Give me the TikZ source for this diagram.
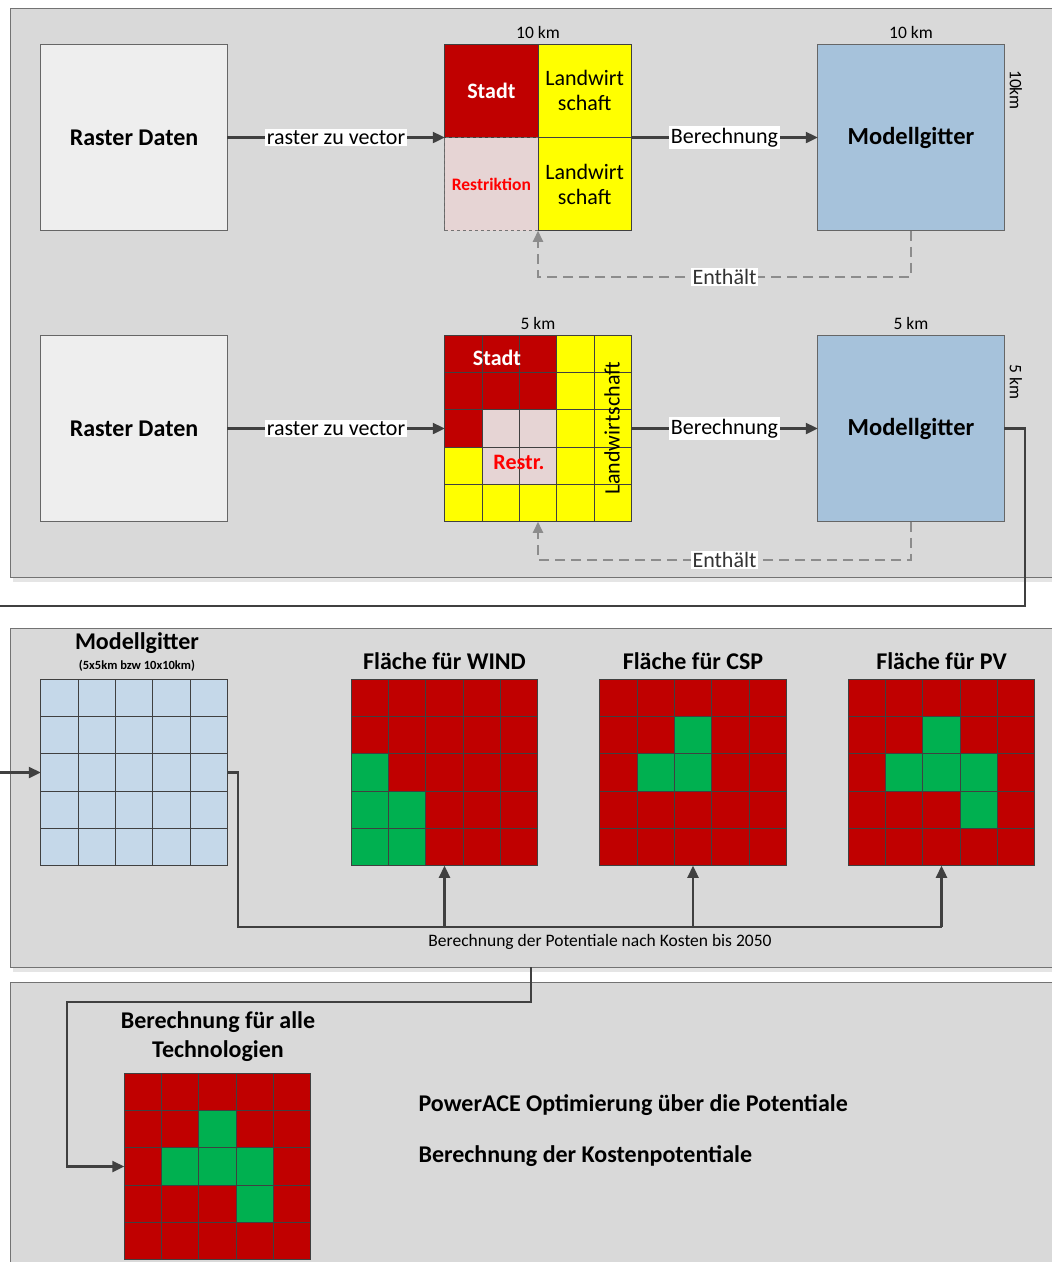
\documentclass[tikz,border=0pt]{standalone}
\usepackage{fontspec}
\setmainfont{Carlito}
\usetikzlibrary{arrows.meta,positioning}
\definecolor{pnlc}{RGB}{217,217,217}
\definecolor{redc}{RGB}{192,0,0}
\definecolor{yelc}{RGB}{255,255,0}
\definecolor{grnc}{RGB}{0,176,80}
\definecolor{mgc}{RGB}{166,194,219}
\definecolor{cellc}{RGB}{197,216,233}
\definecolor{rstc}{RGB}{230,212,212}
\definecolor{rasc}{RGB}{238,238,238}
\definecolor{linec}{RGB}{64,64,64}
\definecolor{dashc}{RGB}{140,140,140}

\begin{document}
\begin{tikzpicture}[x=1pt,y=-1pt,
  panel/.style={draw=black!55,line width=1pt,fill=pnlc},
  box/.style={draw=black!60,line width=0.8pt,minimum width=186.5pt,minimum height=186.5pt,inner sep=0pt,outer sep=0pt},
  cell/.style={draw=linec,line width=0.8pt,minimum width=93.25pt,minimum height=93.25pt,inner sep=0pt,outer sep=0pt},
  ttl/.style={font=\fontsize{24}{29}\selectfont\bfseries},
  txt/.style={font=\fontsize{22}{25}\selectfont},
  km/.style={font=\fontsize{17.5}{19}\selectfont},
  lbl/.style={fill=white,inner sep=1.5pt,font=\fontsize{22}{24}\selectfont},
  flow/.style={draw=linec,line width=2.4pt,-{Triangle[length=12pt,width=11pt]}},
  link/.style={draw=linec,line width=2.4pt},
  contain/.style={draw=dashc,line width=2pt,dash pattern=on 10pt off 6pt,-{Triangle[length=11pt,width=10pt]}},
  gln/.style={draw=linec,line width=0.8pt}]
\useasboundingbox (0,0) rectangle (1052,1262);
\clip (0,0) rectangle (1052,1262);
% --- three grey panels ---
\fill[black!10] (13,11) rectangle (1075,582);
\draw[panel] (10,8) rectangle (1075,577);
\fill[black!10] (13,631) rectangle (1075,972);
\draw[panel] (10,628) rectangle (1075,967);
\draw[panel] (10,982) rectangle (1075,1290);
% --- row 1: 10 km ---
\node[box,fill=rasc,ttl] (rd1) at (134,137.5) {Raster Daten};
\node[box,fill=yelc] (g1) at (538,137.5) {};
\node[cell,fill=redc,anchor=north west,text=white,font=\fontsize{22}{24}\selectfont\bfseries] (st1) at (g1.north west) {Stadt};
\node[cell,fill=rstc,draw=black!55,dashed,anchor=south west,text=red,font=\fontsize{17.5}{20}\selectfont\bfseries] (rs1) at (g1.south west) {Restriktion};
\node[cell,txt,align=center,anchor=north east] (lw1) at (g1.north east) {Landwirt\\schaft};
\node[cell,txt,align=center,anchor=south east] (lw2) at (g1.south east) {Landwirt\\schaft};
\node[box,fill=mgc,font=\fontsize{24.5}{27}\selectfont\bfseries] (mg1) at (911,137.5) {Modellgitter};
\node[km,above=2pt of g1] {10 km};
\node[km,above=2pt of mg1] {10 km};
\node[km,rotate=-90] (v1) at (1016,90) {10km};
\draw[flow] (rd1) -- node[lbl]{raster zu vector} (g1);
\draw[flow] (g1) -- node[lbl]{Berechnung} (mg1);
\draw[contain] (mg1.south) -- ++(0,46) -| node[pos=0.25,lbl,text=black!80]{Enthält} (g1.south);
% --- row 2: 5 km ---
\node[box,fill=rasc,ttl] (rd2) at (134,428.5) {Raster Daten};
\node[box,fill=yelc] (g2) at (538,428.5) {};
\node[box,fill=mgc,font=\fontsize{24.5}{27}\selectfont\bfseries] (mg2) at (911,428.5) {Modellgitter};
\node[km,above=2pt of g2] {5 km};
\node[km,above=2pt of mg2] {5 km};
\node[km,rotate=-90] (v2) at (1016,382) {5 km};
% --- panel 2 and 3 grids ---
\node[box,fill=cellc] (mg3) at (134,772.5) {};
\node[box,fill=redc] (wind) at (444.5,772.5) {};
\node[box,fill=redc] (csp) at (693,772.5) {};
\node[box,fill=redc] (pv) at (941.5,772.5) {};
\node[box,fill=redc] (all) at (217.5,1166.5) {};
% --- cell colours ---
\foreach \g/\c/\r in {g2/0/0,g2/1/0,g2/2/0,g2/0/1,g2/1/1,g2/2/1,g2/0/2}
  \fill[redc] (\g.north west) ++(\c*37.3,\r*37.3) rectangle ++(37.3,37.3);
\foreach \g/\c/\r in {g2/1/2,g2/2/2,g2/1/3,g2/2/3}
  \fill[rstc] (\g.north west) ++(\c*37.3,\r*37.3) rectangle ++(37.3,37.3);
\foreach \g/\c/\r in {wind/0/2,wind/0/3,wind/1/3,wind/0/4,wind/1/4,
    csp/2/1,csp/1/2,csp/2/2,
    pv/2/1,pv/1/2,pv/2/2,pv/3/2,pv/3/3,
    all/2/1,all/1/2,all/2/2,all/3/2,all/3/3}
  \fill[grnc] (\g.north west) ++(\c*37.3,\r*37.3) rectangle ++(37.3,37.3);
\foreach \g in {g2,wind,csp,pv,all,mg3} {
  \foreach \i in {1,...,4} {
    \draw[gln] (\g.north west) ++(\i*37.3,0) -- ++(0,186.5);
    \draw[gln] (\g.north west) ++(0,\i*37.3) -- ++(186.5,0);
  }
  \draw[gln] (\g.north west) rectangle (\g.south east);
}
\node[text=white,font=\fontsize{22}{24}\selectfont\bfseries] (st2) at (497,358) {Stadt};
\node[text=red,font=\fontsize{22}{24}\selectfont\bfseries] (rs2) at (519,462) {Restr.};
\node[txt,rotate=90] (lw3) at (612,428) {Landwirtschaft};
\draw[flow] (rd2) -- node[lbl]{raster zu vector} (g2);
\draw[flow] (g2) -- node[lbl]{Berechnung} (mg2);
\draw[contain] (mg2.south) -- ++(0,38) -| node[pos=0.25,lbl,text=black!80]{Enthält} (g2.south);
\draw[flow] (mg2.east) -| (1025,606) -- (-8,606) |- (mg3.west);
% --- panel 2: potentials per technology ---
\node[ttl] (mgt) at (137,643) {Modellgitter};
\node[font=\fontsize{12.5}{14}\selectfont\bfseries] (mgs) at (137,666) {(5x5km bzw 10x10km)};
\node[ttl,above=6pt of wind] {Fläche für WIND};
\node[ttl,above=6pt of csp] {Fläche für CSP};
\node[ttl,above=6pt of pv] {Fläche für PV};
\coordinate (bus) at (238,927);
\draw[link] (mg3.east) -| (bus) -- (pv.south |- bus);
\foreach \t in {wind,csp,pv}
  \draw[flow] (\t.south |- bus) -- (\t.south);
\node[font=\fontsize{17.5}{19}\selectfont] (pot) at (600,942) {Berechnung der Potentiale nach Kosten bis 2050};
% --- panel 3: all technologies ---
\coordinate (drop) at (531,967);
\draw[flow] (drop) |- (67,1002) |- (all.west);
\node[ttl,align=center] (allt) at (218,1036.5) {Berechnung für alle\\Technologien};
\node[ttl,anchor=west] (opt) at (415,1105) {PowerACE Optimierung über die Potentiale};
\node[ttl,anchor=west] (kost) at (415,1156) {Berechnung der Kostenpotentiale};
\end{tikzpicture}
\end{document}
